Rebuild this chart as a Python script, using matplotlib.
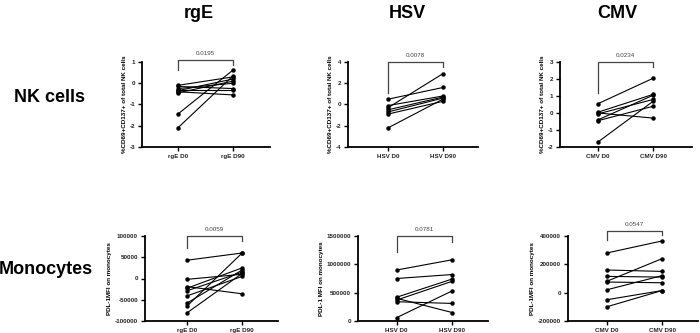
import matplotlib
matplotlib.use("Agg")
import matplotlib.pyplot as plt

plt.rcParams['font.family'] = ['Liberation Sans', 'DejaVu Sans']

# --- data ---
nk_rge_d0 = [-0.1, -0.15, -0.25, -0.3, -0.35, -0.4, -0.45, -1.45, -2.1]
nk_rge_d90 = [0.3, -0.25, 0.0, -0.3, 0.2, -0.55, 0.1, 0.62, 0.35]
nk_hsv_d0 = [0.5, -0.1, -0.3, -0.5, -0.7, -0.9, -2.2]
nk_hsv_d90 = [1.6, 0.8, 2.9, 0.7, 0.6, 0.3, 0.5]
nk_cmv_d0 = [0.55, 0.05, 0.0, -0.05, -0.4, -0.45, -1.7]
nk_cmv_d90 = [2.05, 1.1, -0.3, 0.8, 1.05, 0.4, 0.7]

mo_rge_d0 = [43000, -2000, -19000, -23000, -29000, -41000, -58000, -65000, -81000]
mo_rge_d90 = [60000, 10000, -36000, 25000, 15000, 5000, 20000, 60000, 12000]
mo_hsv_d0 = [900000, 750000, 420000, 400000, 370000, 340000, 60000]
mo_hsv_d90 = [1080000, 820000, 740000, 150000, 700000, 310000, 530000]
mo_cmv_d0 = [280000, 160000, 115000, 80000, 75000, 20000, -50000, -100000]
mo_cmv_d90 = [365000, 150000, 110000, 240000, 70000, 120000, 15000, 15000]

col_titles = ["rgE", "HSV", "CMV"]
row_titles = ["NK cells", "Monocytes"]
pvals = ["0.0195", "0.0078", "0.0234", "0.0059", "0.0781", "0.0547"]
nk_ylabel = "%CD69+CD137+ of total NK cells"
mo_ylabels = ["PDL-1MFI on monocytes", "PDL-1 MFI on monocytes", "PDL-1MFI on monocytes"]

W, H = 700, 333
fig = plt.figure(figsize=(7, 3.33), dpi=100)


def px_axes(left, top, right, bottom):
    return fig.add_axes([left / W, 1 - bottom / H, (right - left) / W, (bottom - top) / H])


panels = [
    # (left, top, right, bottom) px, xlim, ylim, yticks, d0, d90, labels, ylabel, pval, bracket (y, yl, yr), text y
    ((142, 62, 270, 147), (-0.65, 1.67), (-3, 1), [-3, -2, -1, 0, 1], nk_rge_d0, nk_rge_d90,
     ["rgE D0", "rgE D90"], nk_ylabel, pvals[0], (1.08, 0.6, 0.85)),
    ((348, 62, 478, 147), (-0.73, 1.64), (-4, 4), [-4, -2, 0, 2, 4], nk_hsv_d0, nk_hsv_d90,
     ["HSV D0", "HSV D90"], nk_ylabel, pvals[1], (4.0, 1.1, 3.5)),
    ((560, 62, 692, 147), (-0.69, 1.7), (-2, 3), [-2, -1, 0, 1, 2, 3], nk_cmv_d0, nk_cmv_d90,
     ["CMV D0", "CMV D90"], nk_ylabel, pvals[2], (3.0, 1.2, 2.7)),
    ((145, 236, 278, 321), (-0.76, 1.65), (-100000, 100000), [-100000, -50000, 0, 50000, 100000],
     mo_rge_d0, mo_rge_d90, ["rgE D0", "rgE D90"], mo_ylabels[0], pvals[3], (100000, 72000, 88000)),
    ((358, 236, 488, 321), (-0.7, 1.65), (0, 1500000), [0, 500000, 1000000, 1500000],
     mo_hsv_d0, mo_hsv_d90, ["HSV D0", "HSV D90"], mo_ylabels[1], pvals[4], (1500000, 1220000, 1400000)),
    ((568, 236, 698, 321), (-0.7, 1.65), (-200000, 400000), [-200000, 0, 200000, 400000],
     mo_cmv_d0, mo_cmv_d90, ["CMV D0", "CMV D90"], mo_ylabels[2], pvals[5], (435000, 370000, 410000)),
]

for (box, xlim, ylim, yticks, d0, d90, xlabels, ylabel, pv, br) in panels:
    ax = px_axes(*box)
    for a, b in zip(d0, d90):
        ax.plot([0, 1], [a, b], color='black', lw=0.8, marker='o', ms=2.2, clip_on=False)
    ax.set_xlim(*xlim)
    ax.set_ylim(*ylim)
    ax.set_yticks(yticks)
    ax.set_yticklabels([str(t) for t in yticks])
    ax.set_xticks([0, 1])
    ax.set_xticklabels(xlabels)
    for s in ['top', 'right']:
        ax.spines[s].set_visible(False)
    for s in ['left', 'bottom']:
        ax.spines[s].set_linewidth(1.3)
    ax.tick_params(axis='both', length=3, width=1.0, labelsize=4.5, pad=2, labelcolor='#222222')
    for lab in ax.get_xticklabels() + ax.get_yticklabels():
        lab.set_fontweight('bold')
    ax.set_ylabel(ylabel, fontsize=4.5, fontweight='bold', labelpad=2)
    ax.patch.set_alpha(0)
    # significance bracket
    ybar, yl, yr = br
    ax.plot([0, 0, 1, 1], [yl, ybar, ybar, yr], color='#444444', lw=0.9, clip_on=False)
    ax.annotate(pv, xy=(0.5, ybar), xytext=(0, 3), textcoords='offset points',
                ha='center', va='bottom', fontsize=4.5, color='#444444', annotation_clip=False)

for x, t in zip([199, 407, 617], col_titles):
    fig.text(x / W, 1 - 14 / H, t, ha='center', va='center', fontsize=13, fontweight='bold')
fig.text(50 / W, 1 - 98 / H, row_titles[0], ha='center', va='center', fontsize=13, fontweight='bold')
fig.text(46 / W, 1 - 270 / H, row_titles[1], ha='center', va='center', fontsize=13, fontweight='bold')

fig.savefig("out.png", dpi=100)
